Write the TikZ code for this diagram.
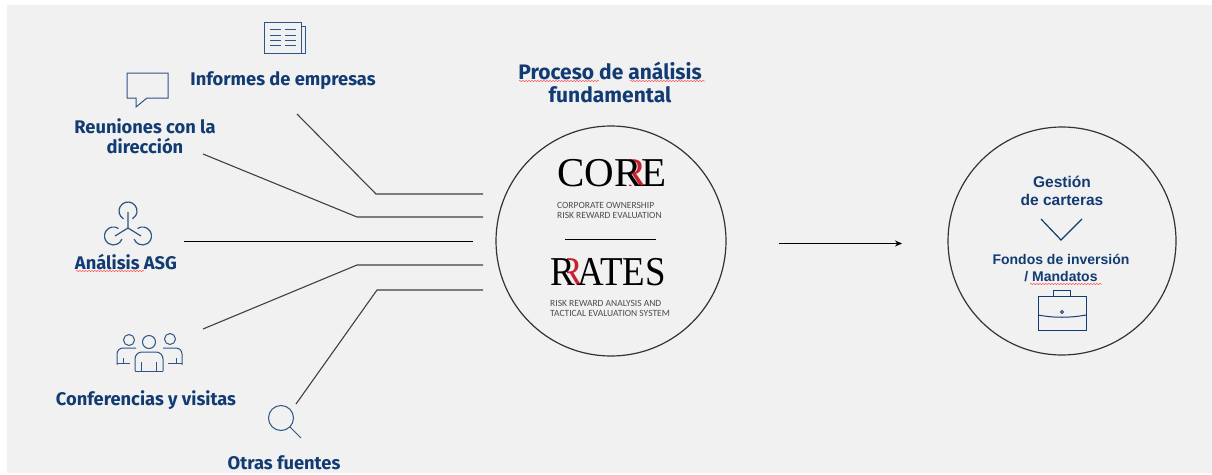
\documentclass[tikz,border=0pt]{standalone}
\usepackage{fontspec}
\setmainfont{Fira Sans}
\newfontfamily\gestfont{Liberation Sans}
\newfontfamily\logofont{Liberation Serif}
\newfontfamily\logonarrow[FakeStretch=.9]{Liberation Serif}
\newfontfamily\capfont{Carlito}
\usetikzlibrary{decorations.pathmorphing,arrows.meta}
\definecolor{navy}{HTML}{123B73}
\definecolor{iconblue}{HTML}{2F5586}
\definecolor{bggrey}{HTML}{F1F1F1}
\definecolor{logored}{HTML}{C8202F}
\tikzset{
  lbl/.style={text=navy,font=\fontsize{18.3}{19.5}\selectfont\bfseries,align=center,inner sep=0pt},
  gest/.style={text=navy,font=\gestfont\fontsize{15.5}{18}\selectfont\bfseries,align=center,inner sep=0pt},
  logo/.style={font=\logofont\fontsize{41}{41}\selectfont,inner sep=0pt},
  rlogo/.style={font=\logonarrow\fontsize{41}{41}\selectfont,inner sep=0pt},
  capt/.style={text=black!70,font=\capfont\fontsize{9.5}{10.5}\selectfont,align=left,inner sep=0pt},
  ring/.style={circle,draw=black!80,line width=1.2pt,inner sep=0pt},
  conn/.style={draw=black!75,line width=1.1pt},
  rule/.style={draw=black,line width=.9pt},
  icon/.style={draw=iconblue,line width=1pt},
  squiggle/.style={draw=red!70,line width=.5pt,decorate,decoration={snake,amplitude=.6pt,segment length=3pt}}
}
\begin{document}
\begin{tikzpicture}[x=1pt,y=-1pt]
\useasboundingbox (0,0) rectangle (1212,474);
\fill[white] (0,0) rectangle (1212,474);
\fill[bggrey] (7,5) rectangle (1212,473);
% circles
\node[ring,minimum size=230pt] (corre) at (611,241) {};
\node[ring,minimum size=228pt] (gestion) at (1062,241) {};
% labels
\node[lbl] (informes) at (283,80.5) {Informes de empresas};
\node[lbl] (reuniones) at (145,136) {Reuniones con la\\direcci\'on};
\node[lbl] (asg) at (126,262) {An\'alisis ASG};
\node[lbl] (conf) at (146,400) {Conferencias y visitas};
\node[lbl] (otras) at (284,463) {Otras fuentes};
\node[lbl,font=\fontsize{21}{23}\selectfont\bfseries] (proceso) at (610,82) {Proceso de an\'alisis\\fundamental};
% squiggles
\draw[squiggle] (76,271) -- (144,271);
\draw[squiggle] (519,81) -- (599,81);
\draw[squiggle] (630,81) -- (705,81);
\draw[squiggle] (1030,284) -- (1102,284);
% logos
\begin{scope}
\clip (629,150) rectangle (650,195);
\node[logo,text=logored,anchor=base west] (correred) at (619,186) {R};
\end{scope}
\node[logo,anchor=base west] (correlogo) at (557,186) {CORE};
\node[capt,anchor=north west] (correcap) at (557,202) {CORPORATE OWNERSHIP\\RISK REWARD EVALUATION};
\begin{scope}
\clip (567,250) rectangle (590,295);
\node[rlogo,text=logored,anchor=base west] (rratesred) at (558,285) {R};
\end{scope}
\node[rlogo,anchor=base west] (rrateslogo) at (550,285) {R\kern3pt ATES};
\node[capt,anchor=north west] (rratescap) at (550,300) {RISK REWARD ANALYSIS AND\\TACTICAL EVALUATION SYSTEM};
\coordinate (sepl) at (565,239.5);
\coordinate (sepr) at (656,239.5);
\draw[rule] (sepl) -- (sepr);
% right circle text
\node[gest] (cartera) at (1062,191) {Gesti\'on\\de carteras};
\node[gest,font=\gestfont\fontsize{14}{17}\selectfont\bfseries] (fondos) at (1061,268) {Fondos de inversi\'on\\/ Mandatos};
\draw[navy,line width=1.2pt] (1041,219) -- (1061,240) -- (1082,219);
% connectors
\coordinate (a1) at (297,114); \coordinate (a2) at (483,194);
\coordinate (b1) at (203,154); \coordinate (b2) at (483,217);
\coordinate (c1) at (184,241.5); \coordinate (c2) at (473,241.5);
\coordinate (d1) at (203,329); \coordinate (d2) at (483,265);
\coordinate (e1) at (296,404); \coordinate (e2) at (483,290);
\draw[conn] (a1) -- (376,194) -- (a2);
\draw[conn] (b1) -- (357,217) -- (b2);
\draw[rule] (c1) -- (c2);
\draw[conn] (d1) -- (357,265) -- (d2);
\draw[conn] (e1) -- (377,290) -- (e2);
\coordinate (arrowa) at (779,243.5); \coordinate (arrowb) at (902,243.5);
\draw[-{Stealth[length=7pt,width=6pt]},draw=black,line width=.9pt] (arrowa) -- (arrowb);
% newspaper
\draw[icon] (264,22) rectangle (301,53);
\draw[icon] (301,26) -- (305,26) -- (305,53) -- (301,53);
\foreach \y in {29,35,40,45} {
  \draw[icon] (270,\y) -- (281,\y);
  \draw[icon] (285,\y) -- (296,\y);
}
% speech bubble
\draw[icon] (127,73) -- (168,73) -- (168,98) -- (147,98) -- (136,107) -- (136,98) -- (127,98) -- cycle;
% asg
\draw[icon,line width=1.2pt] (128,212) -- (128,228) -- (115,236);
\draw[icon,line width=1.2pt] (128,228) -- (141,236);
\draw[icon,line width=1.2pt] (123.5,218.8) arc (120:420:9);
\draw[icon,line width=1.2pt] (118.5,228.5) arc (-56:-340:9);
\draw[icon,line width=1.2pt] (137.5,228.5) arc (-124:160:9);
% people
\draw[icon] (129,340) circle (5.5);
\draw[icon] (149,342) circle (6.5);
\draw[icon] (170,339) circle (5.5);
\draw[icon,rounded corners=7pt] (135,371) -- (135,352) -- (163,352) -- (163,371);
\draw[icon] (135,371) -- (163,371);
\draw[icon] (141,371) -- (141,362);
\draw[icon] (156,371) -- (156,362);
\draw[icon,rounded corners=6pt] (136,348) -- (117,348) -- (117,375);
\draw[icon] (117,363) -- (130,363);
\draw[bggrey,line width=2pt] (117,364.5) -- (117,376);
\draw[icon] (123,363) -- (123,358);
\draw[icon,rounded corners=6pt] (163,348) -- (182,348) -- (182,375);
\draw[icon] (182,363) -- (168,363);
\draw[bggrey,line width=2pt] (182,364.5) -- (182,376);
\draw[icon] (176,363) -- (176,358);
% magnifier
\draw[icon] (281,418) circle (12.5);
\draw[icon] (290,427) -- (301,438);
% briefcase
\draw[icon,draw=navy] (1038,296) rectangle (1086,330);
\draw[icon,draw=navy] (1053,296) -- (1053,290) -- (1070,290) -- (1070,296);
\draw[icon,draw=navy] (1038,315) .. controls (1054,318) and (1070,318) .. (1086,315);
\draw[icon,draw=navy] (1062,312) circle (1.5);
\end{tikzpicture}
\end{document}
